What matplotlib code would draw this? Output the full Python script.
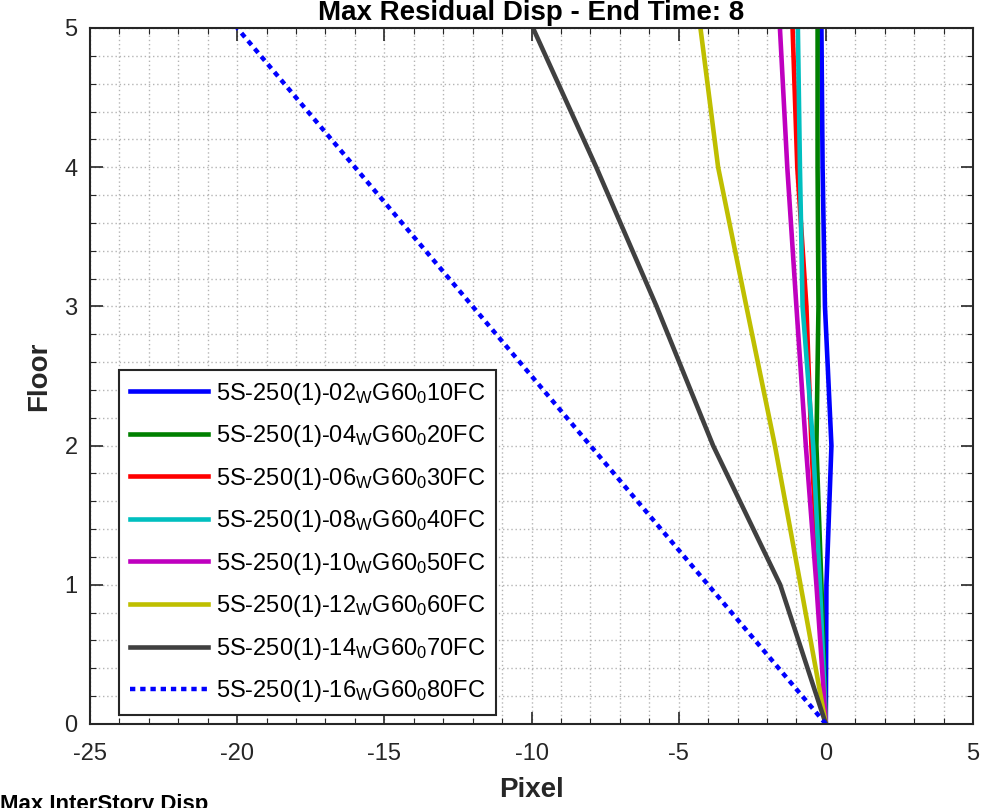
import matplotlib
matplotlib.use("Agg")
import matplotlib.pyplot as plt
from matplotlib.ticker import MultipleLocator

plt.rcParams['font.family'] = ['Liberation Sans', 'DejaVu Sans']
plt.rcParams['mathtext.fontset'] = 'custom'
plt.rcParams['mathtext.rm'] = 'Liberation Sans'
plt.rcParams['mathtext.it'] = 'Liberation Sans'
plt.rcParams['axes.unicode_minus'] = False

# floors 0..5, residual displacement (pixel)
floors = [0, 1, 2, 3, 4, 5]
d02 = [0.0, 0.02, 0.19, -0.03, -0.11, -0.15]
d04 = [0.0, -0.15, -0.32, -0.25, -0.28, -0.28]
d06 = [0.0, -0.25, -0.49, -0.66, -0.97, -1.13]
d08 = [0.0, -0.2, -0.43, -0.79, -0.88, -0.95]
d10 = [0.0, -0.32, -0.68, -1.0, -1.31, -1.56]
d12 = [0.0, -0.86, -1.73, -2.7, -3.66, -4.26]
d14 = [0.0, -1.55, -3.83, -5.75, -7.8, -9.95]
d16 = [0.0, -4.0, -8.0, -12.0, -16.0, -20.0]

names = ['02', '04', '06', '08', '10', '12', '14', '16']
fcs = ['10', '20', '30', '40', '50', '60', '70', '80']
series = [d02, d04, d06, d08, d10, d12, d14, d16]
colors = ['#0000ff', '#008000', '#ff0000', '#00bfbf', '#bf00bf', '#bfbf00', '#404040', '#0000ff']

fig = plt.figure(figsize=(9.91, 8.08), dpi=100)
ax = fig.add_axes([90/991, 1-724/808, 883/991, 696/808])

for i, d in enumerate(series):
    lab = '5S-250(1)-' + names[i] + r'$_{\mathrm{W}}$' + 'G60' + r'$_{\mathrm{0}}$' + fcs[i] + 'FC'
    if i == 7:
        ax.plot(d, floors, color=colors[i], lw=3.2, linestyle=(0, (1.2, 1.1)),
                dash_capstyle='butt', label=lab)
    else:
        ax.plot(d, floors, color=colors[i], lw=3.3, label=lab)

ax.set_xlim(-25, 5)
ax.set_ylim(0, 5)
ax.xaxis.set_major_locator(MultipleLocator(5))
ax.xaxis.set_minor_locator(MultipleLocator(1))
ax.yaxis.set_major_locator(MultipleLocator(1))
ax.yaxis.set_minor_locator(MultipleLocator(0.2))
ax.grid(True, which='both', linestyle=(0, (1, 2)), color='#b4b4b4', lw=1.0)
ax.set_axisbelow(True)
ax.tick_params(which='both', direction='in', top=True, right=True, colors='#262626')
ax.tick_params(which='major', length=9, width=1.2, labelsize=17)
ax.tick_params(which='minor', length=4, width=0.8)
ax.tick_params(axis='x', which='major', pad=14)
ax.tick_params(axis='y', which='major', pad=9)
for s in ax.spines.values():
    s.set_linewidth(1.5)
    s.set_color('#262626')

ax.set_xlabel('Pixel', fontsize=20, fontweight='bold', color='#262626', labelpad=8)
ax.set_ylabel('Floor', fontsize=20, fontweight='bold', color='#262626', labelpad=9)

fig.text(0.5363, 1-20/808, 'Max Residual Disp - End Time: 8', ha='center', va='baseline',
         fontsize=20, fontweight='bold')
fig.text(0.0, 1-794/808, 'Max InterStory Disp', ha='left', va='top',
         fontsize=16, fontweight='bold')

leg = ax.legend(loc='lower left', bbox_to_anchor=(0.033, 0.013), borderaxespad=0,
                fontsize=17, handlelength=3.3, labelspacing=0.7, fancybox=False,
                framealpha=1, edgecolor='#262626', handletextpad=0.35, borderpad=0.45)
leg.get_frame().set_linewidth(1.5)

fig.savefig('out.png', dpi=100)
